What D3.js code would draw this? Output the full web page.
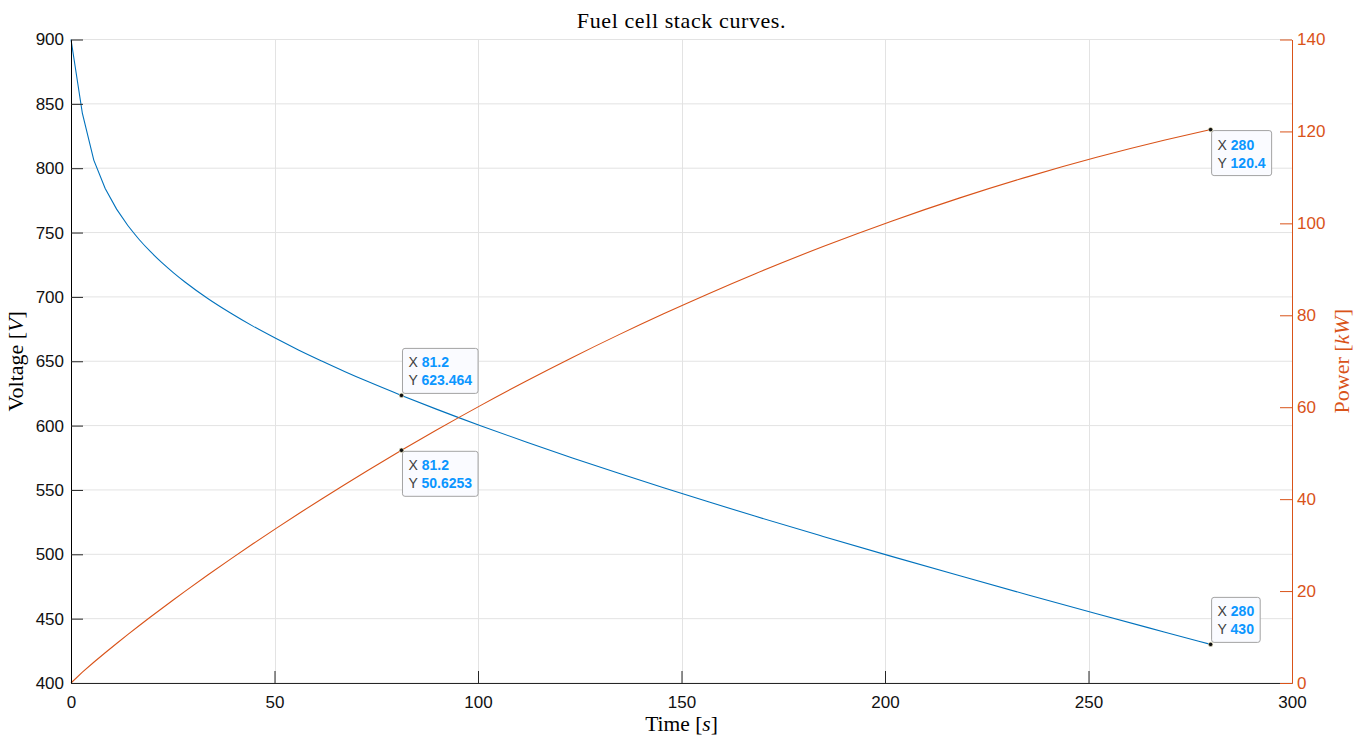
<!DOCTYPE html>
<html>
<head>
<meta charset="utf-8">
<script src="https://cdn.jsdelivr.net/npm/d3@7"></script>
<style>
  html, body { margin: 0; padding: 0; background: #ffffff; }
  svg { display: block; }
</style>
</head>
<body>
<svg id="chart" width="1368" height="738"></svg>
<script>
// Sampled time axis [s]
const time = [0, 2.8, 5.6, 8.4, 11.2, 14, 16.8, 19.6, 22.4, 25.2, 28, 33.6, 39.2, 44.8,
  50.4, 56, 61.6, 67.2, 72.8, 81.2, 89.6, 100.8, 112, 123.2, 134.4, 145.6, 156.8, 168,
  184.8, 201.6, 218.4, 235.2, 252, 268.8, 280];

// Stack voltage [V]
const voltage = [900, 842.5, 806.3, 784.3, 768.2, 755.3, 744.4, 734.9, 726.4, 718.7,
  711.6, 698.8, 687.5, 677.1, 667.6, 658.6, 650.2, 642.1, 634.4, 623.464, 613.0, 599.7,
  587.1, 574.9, 563.1, 551.7, 540.6, 529.7, 513.9, 498.4, 483.3, 468.4, 453.8, 439.5, 430];

// Stack power [kW]
const power = [0, 2.359, 4.515, 6.588, 8.604, 10.574, 12.505, 14.403, 16.271, 18.110,
  19.925, 23.481, 26.949, 30.335, 33.645, 36.882, 40.050, 43.151, 46.187, 50.6253, 54.924,
  60.451, 65.750, 70.825, 75.683, 80.329, 84.765, 88.995, 94.959, 100.471, 105.542,
  110.168, 114.363, 118.127, 120.4];

// Axis ticks
const xTicks = [0, 50, 100, 150, 200, 250, 300];
const voltTicks = [400, 450, 500, 550, 600, 650, 700, 750, 800, 850, 900];
const powerTicks = [0, 20, 40, 60, 80, 100, 120, 140];

// Data tips: series and index into time
const tips = [
  { series: "voltage", index: 19, place: "above" },
  { series: "power", index: 19, place: "below" },
  { series: "power", index: 34, place: "below" },
  { series: "voltage", index: 34, place: "above" }
];

const svg = d3.select("#chart");
const m = { left: 71, right: 1292, top: 39.5, bottom: 683 };
const blue = "#0072BD", orange = "#D95319", axisCol = "#262626";
const tickFont = "Liberation Sans, Arial, Helvetica, sans-serif";
const serif = "Liberation Serif, Times New Roman, serif";

const x = d3.scaleLinear().domain([0, 300]).range([m.left, m.right]);
const yV = d3.scaleLinear().domain([400, 900]).range([m.bottom, m.top]);
const yP = d3.scaleLinear().domain([0, 140]).range([m.bottom, m.top]);
const tickLen = 12;

// grid
const grid = svg.append("g").attr("stroke", "#e3e3e3").attr("stroke-width", 1);
xTicks.slice(1, -1).forEach(t => grid.append("line")
  .attr("x1", Math.round(x(t)) + 0.5).attr("x2", Math.round(x(t)) + 0.5)
  .attr("y1", m.top).attr("y2", m.bottom));
voltTicks.forEach(t => grid.append("line")
  .attr("x1", m.left).attr("x2", m.right)
  .attr("y1", yV(t)).attr("y2", yV(t)));

// curves: the densely sampled start is drawn as straight segments,
// the coarser remainder is smoothed
const split = 5;
function drawSeries(vals, ys, color) {
  const pts = vals.map((v, i) => [x(time[i]), ys(v)]);
  const straight = d3.line();
  const smooth = d3.line().curve(d3.curveMonotoneX);
  svg.append("path").attr("d", straight(pts.slice(0, split + 1)) + smooth(pts.slice(split)).replace(/^M/, "L"))
    .attr("fill", "none").attr("stroke", color).attr("stroke-width", 1.1);
}
drawSeries(voltage, yV, blue);
drawSeries(power, yP, orange);

// bottom axis
const xAxis = d3.axisBottom(x).tickValues(xTicks).tickSizeInner(-tickLen).tickSizeOuter(0)
  .tickPadding(16).tickFormat(d3.format("d"));
const gx = svg.append("g").attr("transform", `translate(0,${m.bottom})`).call(xAxis);
gx.select(".domain").attr("stroke", axisCol);
gx.selectAll(".tick line").attr("stroke", axisCol);
gx.selectAll(".tick text").attr("fill", "#111").attr("font-family", tickFont)
  .attr("font-size", 17).attr("dy", "0.5em");

// left axis
const yAxisL = d3.axisLeft(yV).tickValues(voltTicks).tickSizeInner(-tickLen).tickSizeOuter(0)
  .tickPadding(7).tickFormat(d3.format("d"));
const gl = svg.append("g").attr("transform", `translate(${m.left},0)`).call(yAxisL);
gl.select(".domain").attr("stroke", "#000");
gl.selectAll(".tick line").attr("stroke", axisCol);
gl.selectAll(".tick text").attr("fill", "#111").attr("font-family", tickFont).attr("font-size", 17);

// right axis
const yAxisR = d3.axisRight(yP).tickValues(powerTicks).tickSizeInner(-tickLen).tickSizeOuter(0)
  .tickPadding(5).tickFormat(d3.format("d"));
const gr = svg.append("g").attr("transform", `translate(${m.right},0)`).call(yAxisR);
gr.select(".domain").attr("stroke", orange);
gr.selectAll(".tick line").attr("stroke", orange);
gr.selectAll(".tick text").attr("fill", orange).attr("font-family", tickFont).attr("font-size", 17);

// title and axis labels
svg.append("text").attr("x", (m.left + m.right) / 2).attr("y", 28)
  .attr("text-anchor", "middle").attr("font-family", serif).attr("font-size", 22)
  .attr("letter-spacing", 0.6).attr("fill", "#000").text("Fuel cell stack curves.");

const xl = svg.append("text").attr("x", (m.left + m.right) / 2).attr("y", 731)
  .attr("text-anchor", "middle").attr("font-family", serif).attr("font-size", 21.5).attr("fill", "#000");
xl.append("tspan").text("Time [");
xl.append("tspan").attr("font-style", "italic").text("s");
xl.append("tspan").text("]");

const yl = svg.append("text").attr("transform", `translate(23,${(m.top + m.bottom) / 2}) rotate(-90)`)
  .attr("text-anchor", "middle").attr("font-family", serif).attr("font-size", 22).attr("fill", "#000");
yl.append("tspan").text("Voltage [");
yl.append("tspan").attr("font-style", "italic").text("V");
yl.append("tspan").text("]");

const pl = svg.append("text").attr("transform", `translate(1349,${(m.top + m.bottom) / 2}) rotate(-90)`)
  .attr("text-anchor", "middle").attr("font-family", serif).attr("font-size", 22).attr("fill", orange);
pl.append("tspan").text("Power [");
pl.append("tspan").attr("font-style", "italic").text("kW");
pl.append("tspan").text("]");

// data tips
const fmtNum = v => String(+v.toFixed(4));
tips.forEach(tp => {
  const vals = tp.series === "voltage" ? voltage : power;
  const ys = tp.series === "voltage" ? yV : yP;
  const px = x(time[tp.index]), py = ys(vals[tp.index]);
  const g = svg.append("g");
  const bx = px + 1, h = 45;
  const by = tp.place === "above" ? py - h - 2 : py + 1;
  const rect = g.append("rect").attr("x", bx).attr("y", by).attr("height", h)
    .attr("rx", 2.5).attr("fill", "#fafbff").attr("stroke", "#a3a3a3").attr("stroke-width", 1);
  const rows = [["X", fmtNum(time[tp.index])], ["Y", fmtNum(vals[tp.index])]];
  let maxW = 0;
  rows.forEach((r, k) => {
    const t = g.append("text").attr("x", bx + 6).attr("y", by + 19 + k * 18)
      .attr("font-family", tickFont).attr("font-size", 14);
    t.append("tspan").attr("fill", "#404040").text(r[0] + " ");
    t.append("tspan").attr("fill", "#0a96ff").attr("font-weight", "bold").text(r[1]);
    maxW = Math.max(maxW, t.node().getComputedTextLength());
  });
  rect.attr("width", maxW + 12);
  g.append("circle").attr("cx", px).attr("cy", py).attr("r", 2.2)
    .attr("fill", "#111").attr("stroke", "#f5f0c8").attr("stroke-width", 0.6);
});
</script>
</body>
</html>
